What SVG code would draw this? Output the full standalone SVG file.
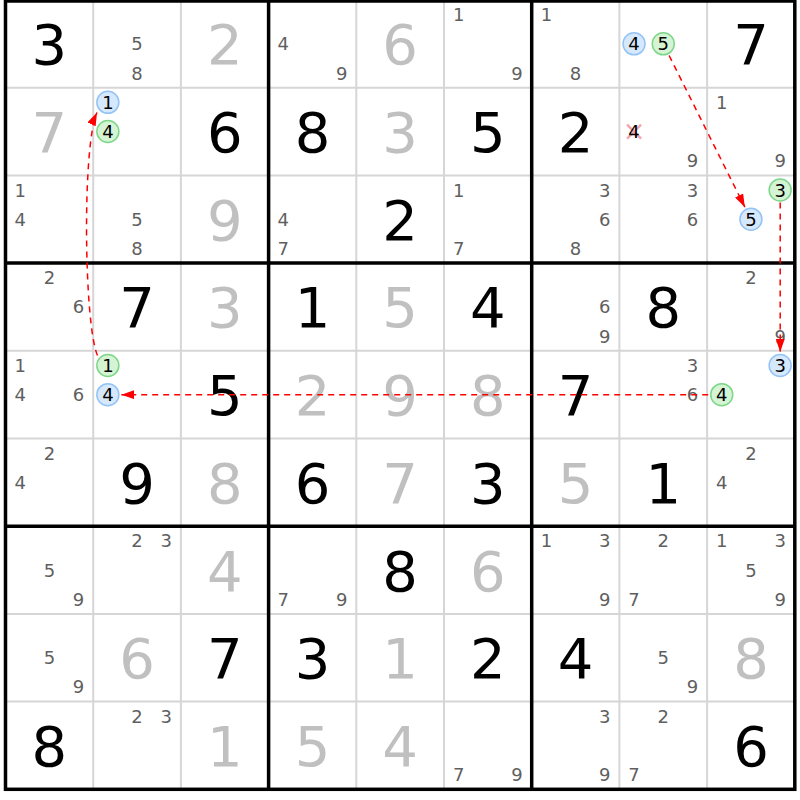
<svg xmlns="http://www.w3.org/2000/svg" width="800" height="800" viewBox="0 0 800 800">
<defs>
<style>
text{font-family:"DejaVu Sans",Verdana,sans-serif;text-anchor:middle}
.big{font-size:56px}
.gv{fill:#000}
.sv{fill:#c0c0c0}
.c{font-size:18px;fill:#5f5f5f}
.h{font-size:18px;fill:#000}
.cb{fill:#d6e8fb;stroke:#93c3f5;stroke-width:1.5}
.cg{fill:#d4f4d4;stroke:#7ed68a;stroke-width:1.5}
.thin{stroke:#d6d6d6;stroke-width:2}
.thick{stroke:#000;stroke-width:3.5}
.arr{fill:none;stroke:#ff0000;stroke-width:1.5;stroke-dasharray:6 5}
.x{stroke:#f5a3ad;stroke-width:2.5}
</style>
<marker id="ah" markerUnits="userSpaceOnUse" markerWidth="13" markerHeight="9" refX="13" refY="4.5" orient="auto">
<path d="M0,0 L13,4.5 L0,9 z" fill="#ff0000"/>
</marker>
</defs>
<rect width="800" height="800" fill="#fff"/>
<g id="grid">
<g class="thin">
<line x1="93.2" y1="0" x2="93.2" y2="789.3"/><line x1="180.9" y1="0" x2="180.9" y2="789.3"/>
<line x1="356.3" y1="0" x2="356.3" y2="789.3"/><line x1="444" y1="0" x2="444" y2="789.3"/>
<line x1="619.4" y1="0" x2="619.4" y2="789.3"/><line x1="707.1" y1="0" x2="707.1" y2="789.3"/>
<line x1="5.5" y1="87.7" x2="794.8" y2="87.7"/><line x1="5.5" y1="175.4" x2="794.8" y2="175.4"/>
<line x1="5.5" y1="350.8" x2="794.8" y2="350.8"/><line x1="5.5" y1="438.5" x2="794.8" y2="438.5"/>
<line x1="5.5" y1="613.9" x2="794.8" y2="613.9"/><line x1="5.5" y1="701.6" x2="794.8" y2="701.6"/>
</g>
<g class="thick">
<line x1="268.6" y1="0" x2="268.6" y2="789.3"/><line x1="531.7" y1="0" x2="531.7" y2="789.3"/>
<line x1="5.5" y1="263.1" x2="794.8" y2="263.1"/><line x1="5.5" y1="526.2" x2="794.8" y2="526.2"/>
<rect x="5.5" y="1" width="789.3" height="788.3" fill="none"/>
</g>
</g>

<g id="r0c0" transform="translate(49.35,43.85)"><text class="big gv" y="20.5">3</text></g>
<g id="r0c1" transform="translate(137.05,43.85)"><text class="c" x="0" y="6.5">5</text><text class="c" x="0" y="35.7">8</text></g>
<g id="r0c2" transform="translate(224.75,43.85)"><text class="big sv" y="20.5">2</text></g>
<g id="r0c3" transform="translate(312.45,43.85)"><text class="c" x="-29.2" y="6.5">4</text><text class="c" x="29.2" y="35.7">9</text></g>
<g id="r0c4" transform="translate(400.15,43.85)"><text class="big sv" y="20.5">6</text></g>
<g id="r0c5" transform="translate(487.85,43.85)"><text class="c" x="-29.2" y="-22.7">1</text><text class="c" x="29.2" y="35.7">9</text></g>
<g id="r0c6" transform="translate(575.55,43.85)"><text class="c" x="-29.2" y="-22.7">1</text><text class="c" x="0" y="35.7">8</text></g>
<g id="r0c7" transform="translate(663.25,43.85)"><circle class="cb" cx="-29.2" cy="0" r="11"/><text class="h" x="-29.2" y="6.5">4</text><circle class="cg" cx="0" cy="0" r="11"/><text class="h" x="0" y="6.5">5</text></g>
<g id="r0c8" transform="translate(750.95,43.85)"><text class="big gv" y="20.5">7</text></g>

<g id="r1c0" transform="translate(49.35,131.55)"><text class="big sv" y="20.5">7</text></g>
<g id="r1c1" transform="translate(137.05,131.55)"><circle class="cb" cx="-29.2" cy="-29.2" r="11"/><text class="h" x="-29.2" y="-22.7">1</text><circle class="cg" cx="-29.2" cy="0" r="11"/><text class="h" x="-29.2" y="6.5">4</text></g>
<g id="r1c2" transform="translate(224.75,131.55)"><text class="big gv" y="20.5">6</text></g>
<g id="r1c3" transform="translate(312.45,131.55)"><text class="big gv" y="20.5">8</text></g>
<g id="r1c4" transform="translate(400.15,131.55)"><text class="big sv" y="20.5">3</text></g>
<g id="r1c5" transform="translate(487.85,131.55)"><text class="big gv" y="20.5">5</text></g>
<g id="r1c6" transform="translate(575.55,131.55)"><text class="big gv" y="20.5">2</text></g>
<g id="r1c7" transform="translate(663.25,131.55)"><line class="x" x1="-36.2" y1="-7" x2="-22.2" y2="7"/><line class="x" x1="-22.2" y1="-7" x2="-36.2" y2="7"/><text class="h" x="-29.2" y="6.5">4</text><text class="c" x="29.2" y="35.7">9</text></g>
<g id="r1c8" transform="translate(750.95,131.55)"><text class="c" x="-29.2" y="-22.7">1</text><text class="c" x="29.2" y="35.7">9</text></g>

<g id="r2c0" transform="translate(49.35,219.25)"><text class="c" x="-29.2" y="-22.7">1</text><text class="c" x="-29.2" y="6.5">4</text></g>
<g id="r2c1" transform="translate(137.05,219.25)"><text class="c" x="0" y="6.5">5</text><text class="c" x="0" y="35.7">8</text></g>
<g id="r2c2" transform="translate(224.75,219.25)"><text class="big sv" y="20.5">9</text></g>
<g id="r2c3" transform="translate(312.45,219.25)"><text class="c" x="-29.2" y="6.5">4</text><text class="c" x="-29.2" y="35.7">7</text></g>
<g id="r2c4" transform="translate(400.15,219.25)"><text class="big gv" y="20.5">2</text></g>
<g id="r2c5" transform="translate(487.85,219.25)"><text class="c" x="-29.2" y="-22.7">1</text><text class="c" x="-29.2" y="35.7">7</text></g>
<g id="r2c6" transform="translate(575.55,219.25)"><text class="c" x="29.2" y="-22.7">3</text><text class="c" x="29.2" y="6.5">6</text><text class="c" x="0" y="35.7">8</text></g>
<g id="r2c7" transform="translate(663.25,219.25)"><text class="c" x="29.2" y="-22.7">3</text><text class="c" x="29.2" y="6.5">6</text></g>
<g id="r2c8" transform="translate(750.95,219.25)"><circle class="cg" cx="29.2" cy="-29.2" r="11"/><text class="h" x="29.2" y="-22.7">3</text><circle class="cb" cx="0" cy="0" r="11"/><text class="h" x="0" y="6.5">5</text></g>

<g id="r3c0" transform="translate(49.35,306.95)"><text class="c" x="0" y="-22.7">2</text><text class="c" x="29.2" y="6.5">6</text></g>
<g id="r3c1" transform="translate(137.05,306.95)"><text class="big gv" y="20.5">7</text></g>
<g id="r3c2" transform="translate(224.75,306.95)"><text class="big sv" y="20.5">3</text></g>
<g id="r3c3" transform="translate(312.45,306.95)"><text class="big gv" y="20.5">1</text></g>
<g id="r3c4" transform="translate(400.15,306.95)"><text class="big sv" y="20.5">5</text></g>
<g id="r3c5" transform="translate(487.85,306.95)"><text class="big gv" y="20.5">4</text></g>
<g id="r3c6" transform="translate(575.55,306.95)"><text class="c" x="29.2" y="6.5">6</text><text class="c" x="29.2" y="35.7">9</text></g>
<g id="r3c7" transform="translate(663.25,306.95)"><text class="big gv" y="20.5">8</text></g>
<g id="r3c8" transform="translate(750.95,306.95)"><text class="c" x="0" y="-22.7">2</text><text class="c" x="29.2" y="35.7">9</text></g>

<g id="r4c0" transform="translate(49.35,394.65)"><text class="c" x="-29.2" y="-22.7">1</text><text class="c" x="-29.2" y="6.5">4</text><text class="c" x="29.2" y="6.5">6</text></g>
<g id="r4c1" transform="translate(137.05,394.65)"><circle class="cg" cx="-29.2" cy="-29.2" r="11"/><text class="h" x="-29.2" y="-22.7">1</text><circle class="cb" cx="-29.2" cy="0" r="11"/><text class="h" x="-29.2" y="6.5">4</text></g>
<g id="r4c2" transform="translate(224.75,394.65)"><text class="big gv" y="20.5">5</text></g>
<g id="r4c3" transform="translate(312.45,394.65)"><text class="big sv" y="20.5">2</text></g>
<g id="r4c4" transform="translate(400.15,394.65)"><text class="big sv" y="20.5">9</text></g>
<g id="r4c5" transform="translate(487.85,394.65)"><text class="big sv" y="20.5">8</text></g>
<g id="r4c6" transform="translate(575.55,394.65)"><text class="big gv" y="20.5">7</text></g>
<g id="r4c7" transform="translate(663.25,394.65)"><text class="c" x="29.2" y="-22.7">3</text><text class="c" x="29.2" y="6.5">6</text></g>
<g id="r4c8" transform="translate(750.95,394.65)"><circle class="cb" cx="29.2" cy="-29.2" r="11"/><text class="h" x="29.2" y="-22.7">3</text><circle class="cg" cx="-29.2" cy="0" r="11"/><text class="h" x="-29.2" y="6.5">4</text></g>

<g id="r5c0" transform="translate(49.35,482.35)"><text class="c" x="0" y="-22.7">2</text><text class="c" x="-29.2" y="6.5">4</text></g>
<g id="r5c1" transform="translate(137.05,482.35)"><text class="big gv" y="20.5">9</text></g>
<g id="r5c2" transform="translate(224.75,482.35)"><text class="big sv" y="20.5">8</text></g>
<g id="r5c3" transform="translate(312.45,482.35)"><text class="big gv" y="20.5">6</text></g>
<g id="r5c4" transform="translate(400.15,482.35)"><text class="big sv" y="20.5">7</text></g>
<g id="r5c5" transform="translate(487.85,482.35)"><text class="big gv" y="20.5">3</text></g>
<g id="r5c6" transform="translate(575.55,482.35)"><text class="big sv" y="20.5">5</text></g>
<g id="r5c7" transform="translate(663.25,482.35)"><text class="big gv" y="20.5">1</text></g>
<g id="r5c8" transform="translate(750.95,482.35)"><text class="c" x="0" y="-22.7">2</text><text class="c" x="-29.2" y="6.5">4</text></g>

<g id="r6c0" transform="translate(49.35,570.05)"><text class="c" x="0" y="6.5">5</text><text class="c" x="29.2" y="35.7">9</text></g>
<g id="r6c1" transform="translate(137.05,570.05)"><text class="c" x="0" y="-22.7">2</text><text class="c" x="29.2" y="-22.7">3</text></g>
<g id="r6c2" transform="translate(224.75,570.05)"><text class="big sv" y="20.5">4</text></g>
<g id="r6c3" transform="translate(312.45,570.05)"><text class="c" x="-29.2" y="35.7">7</text><text class="c" x="29.2" y="35.7">9</text></g>
<g id="r6c4" transform="translate(400.15,570.05)"><text class="big gv" y="20.5">8</text></g>
<g id="r6c5" transform="translate(487.85,570.05)"><text class="big sv" y="20.5">6</text></g>
<g id="r6c6" transform="translate(575.55,570.05)"><text class="c" x="-29.2" y="-22.7">1</text><text class="c" x="29.2" y="-22.7">3</text><text class="c" x="29.2" y="35.7">9</text></g>
<g id="r6c7" transform="translate(663.25,570.05)"><text class="c" x="0" y="-22.7">2</text><text class="c" x="-29.2" y="35.7">7</text></g>
<g id="r6c8" transform="translate(750.95,570.05)"><text class="c" x="-29.2" y="-22.7">1</text><text class="c" x="29.2" y="-22.7">3</text><text class="c" x="0" y="6.5">5</text><text class="c" x="29.2" y="35.7">9</text></g>

<g id="r7c0" transform="translate(49.35,657.75)"><text class="c" x="0" y="6.5">5</text><text class="c" x="29.2" y="35.7">9</text></g>
<g id="r7c1" transform="translate(137.05,657.75)"><text class="big sv" y="20.5">6</text></g>
<g id="r7c2" transform="translate(224.75,657.75)"><text class="big gv" y="20.5">7</text></g>
<g id="r7c3" transform="translate(312.45,657.75)"><text class="big gv" y="20.5">3</text></g>
<g id="r7c4" transform="translate(400.15,657.75)"><text class="big sv" y="20.5">1</text></g>
<g id="r7c5" transform="translate(487.85,657.75)"><text class="big gv" y="20.5">2</text></g>
<g id="r7c6" transform="translate(575.55,657.75)"><text class="big gv" y="20.5">4</text></g>
<g id="r7c7" transform="translate(663.25,657.75)"><text class="c" x="0" y="6.5">5</text><text class="c" x="29.2" y="35.7">9</text></g>
<g id="r7c8" transform="translate(750.95,657.75)"><text class="big sv" y="20.5">8</text></g>

<g id="r8c0" transform="translate(49.35,745.45)"><text class="big gv" y="20.5">8</text></g>
<g id="r8c1" transform="translate(137.05,745.45)"><text class="c" x="0" y="-22.7">2</text><text class="c" x="29.2" y="-22.7">3</text></g>
<g id="r8c2" transform="translate(224.75,745.45)"><text class="big sv" y="20.5">1</text></g>
<g id="r8c3" transform="translate(312.45,745.45)"><text class="big sv" y="20.5">5</text></g>
<g id="r8c4" transform="translate(400.15,745.45)"><text class="big sv" y="20.5">4</text></g>
<g id="r8c5" transform="translate(487.85,745.45)"><text class="c" x="-29.2" y="35.7">7</text><text class="c" x="29.2" y="35.7">9</text></g>
<g id="r8c6" transform="translate(575.55,745.45)"><text class="c" x="29.2" y="-22.7">3</text><text class="c" x="29.2" y="35.7">9</text></g>
<g id="r8c7" transform="translate(663.25,745.45)"><text class="c" x="0" y="-22.7">2</text><text class="c" x="-29.2" y="35.7">7</text></g>
<g id="r8c8" transform="translate(750.95,745.45)"><text class="big gv" y="20.5">6</text></g>

<g id="connectors">
<path class="arr" marker-end="url(#ah)" d="M669.1,55.5 L744.9,207.2"/>
<path class="arr" marker-end="url(#ah)" d="M780.2,202.5 L780.2,351.9"/>
<path class="arr" marker-end="url(#ah)" d="M708.2,394.65 L121.3,394.65"/>
<path class="arr" marker-end="url(#ah)" d="M97.5,355.5 C84,325 82,145 97,112.5"/>
</g>
</svg>
